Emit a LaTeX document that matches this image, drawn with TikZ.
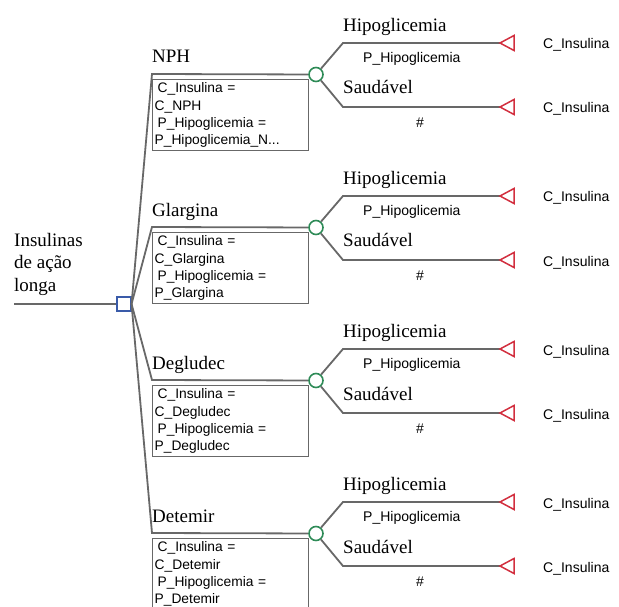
\documentclass[tikz,border=0pt]{standalone}
\usepackage{fontspec}
\setmainfont{Liberation Serif}
\newfontfamily\arial{Liberation Sans}
\definecolor{trait}{HTML}{686868}
\definecolor{vert}{HTML}{2E8B57}
\definecolor{bleu}{HTML}{3A5BA9}
\definecolor{rouge}{HTML}{D22F3F}
\begin{document}
\begin{tikzpicture}[x=1pt,y=-1pt]
            \tikzstyle{branche}=[trait,line width=1.8pt]
            \tikzstyle{decision}=[rectangle,draw=bleu,line width=1.6pt,minimum size=13.5pt,inner sep=0pt]
            \tikzstyle{hasard}=[circle,draw=vert,line width=1.6pt,minimum size=14pt,inner sep=0pt]
            \tikzstyle{fin}=[draw=rouge,line width=1.5pt,line join=miter]
            \tikzstyle{titre}=[anchor=base west,inner sep=0pt,font=\fontsize{19}{22}\selectfont]
            \tikzstyle{petit}=[inner sep=0pt,font=\arial\fontsize{14}{17}\selectfont]
            \tikzstyle{boite}=[draw=trait,line width=1.3pt,anchor=north west,minimum width=156pt,minimum height=71pt,text width=152pt,inner sep=2pt,align=left,font=\arial\fontsize{13.8}{17.2}\selectfont]
            \useasboundingbox (0,0) rectangle (619,607);
            % racine
            \node[titre] (t1) at (14,247) {Insulinas};
            \node[titre] (t2) at (14,269) {de ação};
            \node[titre] (t3) at (14,291) {longa};
            \node[decision] (dec) at (124,304) {};
            \coordinate (r0) at (14,304);
            \draw[branche] (r0) -- (dec);
            % NPH
            \node[hasard] (ch1) at (316,74.5) {};
            \coordinate (c1) at (152,74);
            \node[boite] (b1) at (152,79) {\hspace{3pt}C\_Insulina =\\C\_NPH\\\hspace{3pt}P\_Hipoglicemia =\\P\_Hipoglicemia\_N...};
            \draw[branche] (dec.east) -- (c1) -- (ch1);
            \node[titre] (n1) at (152,63) {NPH};
            \coordinate (h1) at (343,43);
            \coordinate (s1) at (343,107);
            \coordinate (f1) at (500,43);
            \coordinate (g1) at (500,107);
            \draw[branche] (ch1) -- (h1) -- (f1);
            \draw[branche] (ch1) -- (s1) -- (g1);
            \draw[fin] (f1) -- ++(14,-7.5) -- ++(0,15) -- cycle;
            \draw[fin] (g1) -- ++(14,-7.5) -- ++(0,15) -- cycle;
            \node[titre] (p1) at (343,31.5) {Hipoglicemia};
            \node[titre] (q1) at (343,94) {Saudável};
            \node[petit,anchor=west] (pp1) at (363,59) {P\_Hipoglicemia};
            \node[petit] (d1) at (420,123) {\#};
            \node[petit,anchor=base west] (v1) at (543,49) {C\_Insulina};
            \node[petit,anchor=base west] (w1) at (543,113) {C\_Insulina};
            % Glargina
            \node[hasard] (ch2) at (316,227.5) {};
            \coordinate (c2) at (152,227);
            \node[boite] (b2) at (152,232) {\hspace{3pt}C\_Insulina =\\C\_Glargina\\\hspace{3pt}P\_Hipoglicemia =\\P\_Glargina};
            \draw[branche] (dec.east) -- (c2) -- (ch2);
            \node[titre] (n2) at (152,216) {Glargina};
            \coordinate (h2) at (343,196);
            \coordinate (s2) at (343,260);
            \coordinate (f2) at (500,196);
            \coordinate (g2) at (500,260);
            \draw[branche] (ch2) -- (h2) -- (f2);
            \draw[branche] (ch2) -- (s2) -- (g2);
            \draw[fin] (f2) -- ++(14,-7.5) -- ++(0,15) -- cycle;
            \draw[fin] (g2) -- ++(14,-7.5) -- ++(0,15) -- cycle;
            \node[titre] (p2) at (343,184.5) {Hipoglicemia};
            \node[titre] (q2) at (343,247) {Saudável};
            \node[petit,anchor=west] (pp2) at (363,212) {P\_Hipoglicemia};
            \node[petit] (d2) at (420,276) {\#};
            \node[petit,anchor=base west] (v2) at (543,202) {C\_Insulina};
            \node[petit,anchor=base west] (w2) at (543,266) {C\_Insulina};
            % Degludec
            \node[hasard] (ch3) at (316,380.5) {};
            \coordinate (c3) at (152,380);
            \node[boite] (b3) at (152,385) {\hspace{3pt}C\_Insulina =\\C\_Degludec\\\hspace{3pt}P\_Hipoglicemia =\\P\_Degludec};
            \draw[branche] (dec.east) -- (c3) -- (ch3);
            \node[titre] (n3) at (152,369) {Degludec};
            \coordinate (h3) at (343,349);
            \coordinate (s3) at (343,413);
            \coordinate (f3) at (500,349);
            \coordinate (g3) at (500,413);
            \draw[branche] (ch3) -- (h3) -- (f3);
            \draw[branche] (ch3) -- (s3) -- (g3);
            \draw[fin] (f3) -- ++(14,-7.5) -- ++(0,15) -- cycle;
            \draw[fin] (g3) -- ++(14,-7.5) -- ++(0,15) -- cycle;
            \node[titre] (p3) at (343,337.5) {Hipoglicemia};
            \node[titre] (q3) at (343,400) {Saudável};
            \node[petit,anchor=west] (pp3) at (363,365) {P\_Hipoglicemia};
            \node[petit] (d3) at (420,429) {\#};
            \node[petit,anchor=base west] (v3) at (543,355) {C\_Insulina};
            \node[petit,anchor=base west] (w3) at (543,419) {C\_Insulina};
            % Detemir
            \node[hasard] (ch4) at (316,533.5) {};
            \coordinate (c4) at (152,533);
            \node[boite] (b4) at (152,538) {\hspace{3pt}C\_Insulina =\\C\_Detemir\\\hspace{3pt}P\_Hipoglicemia =\\P\_Detemir};
            \draw[branche] (dec.east) -- (c4) -- (ch4);
            \node[titre] (n4) at (152,522) {Detemir};
            \coordinate (h4) at (343,502);
            \coordinate (s4) at (343,566);
            \coordinate (f4) at (500,502);
            \coordinate (g4) at (500,566);
            \draw[branche] (ch4) -- (h4) -- (f4);
            \draw[branche] (ch4) -- (s4) -- (g4);
            \draw[fin] (f4) -- ++(14,-7.5) -- ++(0,15) -- cycle;
            \draw[fin] (g4) -- ++(14,-7.5) -- ++(0,15) -- cycle;
            \node[titre] (p4) at (343,490.5) {Hipoglicemia};
            \node[titre] (q4) at (343,553) {Saudável};
            \node[petit,anchor=west] (pp4) at (363,518) {P\_Hipoglicemia};
            \node[petit] (d4) at (420,582) {\#};
            \node[petit,anchor=base west] (v4) at (543,508) {C\_Insulina};
            \node[petit,anchor=base west] (w4) at (543,572) {C\_Insulina};
        \end{tikzpicture}
\end{document}
